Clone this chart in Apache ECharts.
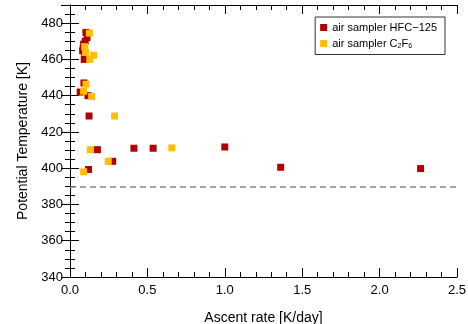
<!DOCTYPE html>
<html>
<head>
<meta charset="utf-8">
<script src="https://cdn.jsdelivr.net/npm/echarts@6/dist/echarts.min.js"></script>
<style>html,body{margin:0;padding:0;background:#fff}#c{width:468px;height:324px}</style>
</head>
<body>
<div id="c"></div>
<script>
// Data: [ascent rate (K/day), potential temperature (K)]
const hfc125 = [
  [0.103,474.9],[0.11,472],[0.098,470],[0.088,468.4],[0.085,466],[0.082,464.7],[0.095,462],[0.092,460],
  [0.09,447],[0.066,442],[0.116,440],
  [0.123,428.8],
  [0.177,410.2],[0.413,411],[0.537,411],[1.0,411.7],
  [0.276,403.8],
  [0.12,399.3],
  [1.361,400.5],[2.265,399.8]
];
const c2f6 = [
  [0.125,474.5],[0.095,467],[0.1,463.8],[0.153,462.3],[0.128,460],
  [0.103,446.3],[0.088,442.5],[0.14,439.5],
  [0.288,428.8],
  [0.131,410.2],[0.658,411.2],
  [0.247,403.8],
  [0.088,398]
];
const refLevel = 390;
const xTicks = {min: 0, max: 2.5, interval: 0.5};
const yTicks = {min: 340, max: 490, interval: 20};
const seriesNames = ['air sampler HFC\u2212125', 'air sampler C2F6'];

const font = 'Liberation Sans, Arial, Helvetica, sans-serif';
const axisLine = {show: true, lineStyle: {color: '#000', width: 1}};
const axisTick = {show: true, inside: true, length: 9, lineStyle: {color: '#000'}};
const chart = echarts.init(document.getElementById('c'), null, {renderer: 'canvas'});
chart.setOption({
  animation: false,
  backgroundColor: '#fff',
  textStyle: {fontFamily: font},
  grid: {left: 70, right: 11, top: 5, bottom: 47, containLabel: false, outerBoundsMode: 'none'},
  legend: {
    orient: 'vertical', right: 23, top: 17,
    borderColor: '#333', borderWidth: 1, padding: [5, 8, 5, 5],
    itemWidth: 7, itemHeight: 7, itemGap: 5, icon: 'rect',
    data: seriesNames,
    formatter: function(n){
      if (n === seriesNames[1]) return '{a|air sampler C}{s|2}{a|F}{s|6}';
      return '{a|' + n + '}';
    },
    textStyle: {
      fontFamily: font, fontSize: 11, color: '#000',
      rich: {
        a: {fontFamily: font, fontSize: 11, color: '#000', lineHeight: 12},
        s: {fontFamily: font, fontSize: 7, color: '#000', lineHeight: 12, verticalAlign: 'bottom', padding: [4,0,0,0]}
      }
    }
  },
  xAxis: [
    {
      type: 'value', position: 'bottom', min: xTicks.min, max: xTicks.max, interval: xTicks.interval,
      axisLine: axisLine, axisTick: axisTick, splitLine: {show: false},
      minorTick: {show: true, splitNumber: 5, length: 5, lineStyle: {color: '#000'}},
      name: 'Ascent rate [K/day]', nameLocation: 'middle', nameGap: 34,
      nameTextStyle: {fontFamily: font, fontSize: 14, color: '#000'},
      axisLabel: {fontFamily: font, fontSize: 13, color: '#000', margin: 7,
        formatter: v => v.toFixed(1)}
    },
    {
      type: 'value', position: 'top', min: xTicks.min, max: xTicks.max, interval: xTicks.interval,
      axisLine: axisLine, axisTick: axisTick, splitLine: {show: false},
      minorTick: {show: true, splitNumber: 5, length: 5, lineStyle: {color: '#000'}},
      axisLabel: {show: false}
    }
  ],
  yAxis: [
    {
      type: 'value', position: 'left', min: yTicks.min, max: yTicks.max, interval: yTicks.interval,
      axisLine: axisLine, axisTick: axisTick, splitLine: {show: false},
      minorTick: {show: true, splitNumber: 4, length: 5, lineStyle: {color: '#000'}},
      name: 'Potential Temperature [K]', nameLocation: 'middle', nameGap: 36,
      nameTextStyle: {fontFamily: font, fontSize: 14, color: '#000'},
      axisLabel: {fontFamily: font, fontSize: 13, color: '#000', margin: 7, showMaxLabel: false}
    },
    {
      type: 'value', position: 'right', min: yTicks.min, max: yTicks.max, interval: yTicks.interval,
      axisLine: axisLine, axisTick: axisTick, splitLine: {show: false},
      minorTick: {show: true, splitNumber: 4, length: 5, lineStyle: {color: '#000'}},
      axisLabel: {show: false}
    }
  ],
  series: [
    {
      name: seriesNames[0], type: 'scatter', symbol: 'rect', symbolSize: 7,
      itemStyle: {color: '#B00000', opacity: 1}, data: hfc125, z: 3,
      markLine: {
        silent: true, symbol: 'none', label: {show: false},
        lineStyle: {color: '#888', type: [6, 4], width: 1.5, opacity: 1},
        data: [{yAxis: refLevel}]
      }
    },
    {
      name: seriesNames[1], type: 'scatter', symbol: 'rect', symbolSize: 7,
      itemStyle: {color: '#FFBF00', opacity: 1}, data: c2f6, z: 4
    }
  ]
});
</script>
</body>
</html>
